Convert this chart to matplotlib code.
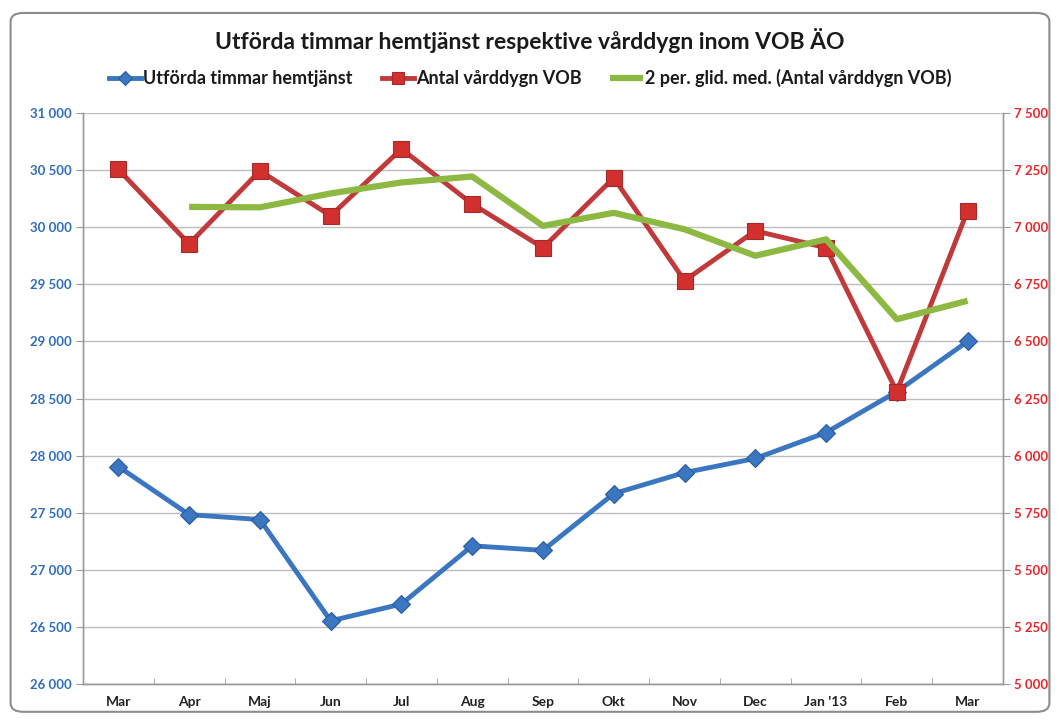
import matplotlib
matplotlib.use("Agg")
import matplotlib.pyplot as plt
from matplotlib.patches import FancyBboxPatch
from matplotlib.ticker import FuncFormatter, MultipleLocator
import numpy as np

plt.rcParams['font.family'] = ['Lato', 'DejaVu Sans']

# data
months = ["Mar", "Apr", "Maj", "Jun", "Jul", "Aug", "Sep", "Okt", "Nov", "Dec", "Jan '13", "Feb", "Mar"]
timmar = [27904, 27483, 27440, 26553, 26700, 27210, 27170, 27667, 27851, 27975, 28202, 28560, 29000]
varddygn = [7253, 6927, 7247, 7050, 7343, 7102, 6910, 7216, 6766, 6984, 6910, 6280, 7072]
glid_med = [np.nan, 7089, 7087, 7148, 7196, 7222, 7006, 7063, 6991, 6875, 6947, 6597, 6678]

blue = "#3B76C0"
red = "#C0393B"
green = "#8DB842"

def space_fmt(v, pos):
    return f"{int(round(v)):,}".replace(",", " ")

fig = plt.figure(figsize=(10.6, 7.19), dpi=100)
fig.patch.set_facecolor("white")

# rounded outer frame
frame = FancyBboxPatch((0.010, 0.010), 0.980, 0.972, boxstyle="round,pad=0,rounding_size=0.012",
                       transform=fig.transFigure, facecolor="white", edgecolor="#8C8C8C",
                       linewidth=1.5, zorder=-10)
fig.patches.append(frame)

ax1 = fig.add_axes([0.0783, 0.0487, 0.8679, 0.7941])
ax2 = ax1.twinx()

x = np.arange(len(months))

l1, = ax1.plot(x, timmar, color=blue, lw=3.5, marker="D", markersize=9,
               markerfacecolor=blue, markeredgecolor="#2A5C9E", markeredgewidth=0.8,
               label="Utförda timmar hemtjänst")
l2, = ax2.plot(x, varddygn, color=red, lw=3.5, marker="s", markersize=11,
               markerfacecolor="#D2302E", markeredgecolor="#A52A2A", markeredgewidth=0.8,
               label="Antal vårddygn VOB", zorder=3)
l3, = ax2.plot(x, glid_med, color=green, lw=4.5, solid_capstyle="butt",
               label="2 per. glid. med. (Antal vårddygn VOB)", zorder=4)

ax1.set_xlim(-0.5, len(months) - 0.5)
ax1.set_ylim(26000, 31000)
ax2.set_ylim(5000, 7500)
ax1.yaxis.set_major_locator(MultipleLocator(500))
ax2.yaxis.set_major_locator(MultipleLocator(250))
ax1.yaxis.set_major_formatter(FuncFormatter(space_fmt))
ax2.yaxis.set_major_formatter(FuncFormatter(space_fmt))

ax1.grid(axis="y", color="#BDBDBD", lw=1.0)
ax1.set_axisbelow(True)

ax1.set_xticks(x)
ax1.set_xticklabels(months, fontsize=10, fontweight="bold", color="#222222")
ax1.set_xticks(np.arange(-0.5, len(months)), minor=True)
ax1.tick_params(axis="x", which="major", length=0, pad=9)
ax1.tick_params(axis="x", which="minor", length=4, direction="in", color="#9A9A9A")

ax1.tick_params(axis="y", length=5, color="#9A9A9A", labelsize=9.5, labelcolor="#2F6EBA", pad=3)
ax2.tick_params(axis="y", length=5, color="#9A9A9A", labelsize=9.5, labelcolor="#E8262A", pad=3)
for lab in ax1.get_yticklabels() + ax2.get_yticklabels():
    lab.set_fontweight("bold")

for ax in (ax1, ax2):
    ax.spines["top"].set_visible(False)
    for side in ("left", "right", "bottom"):
        ax.spines[side].set_color("#9A9A9A")
        ax.spines[side].set_linewidth(1.0)

fig.text(0.5, 0.944, "Utförda timmar hemtjänst respektive vårddygn inom VOB ÄO",
         ha="center", va="center", fontsize=16.5, fontweight="bold", color="#1A1A1A")

leg = fig.legend(handles=[l1, l2, l3], loc="center", bbox_to_anchor=(0.5, 0.8915), ncol=3,
                 frameon=False, fontsize=13, handlelength=1.8, handletextpad=0.1,
                 columnspacing=1.6, markerscale=0.8)
for t in leg.get_texts():
    t.set_fontweight("bold")
    t.set_color("#1A1A1A")

fig.savefig("out.png", dpi=100)
